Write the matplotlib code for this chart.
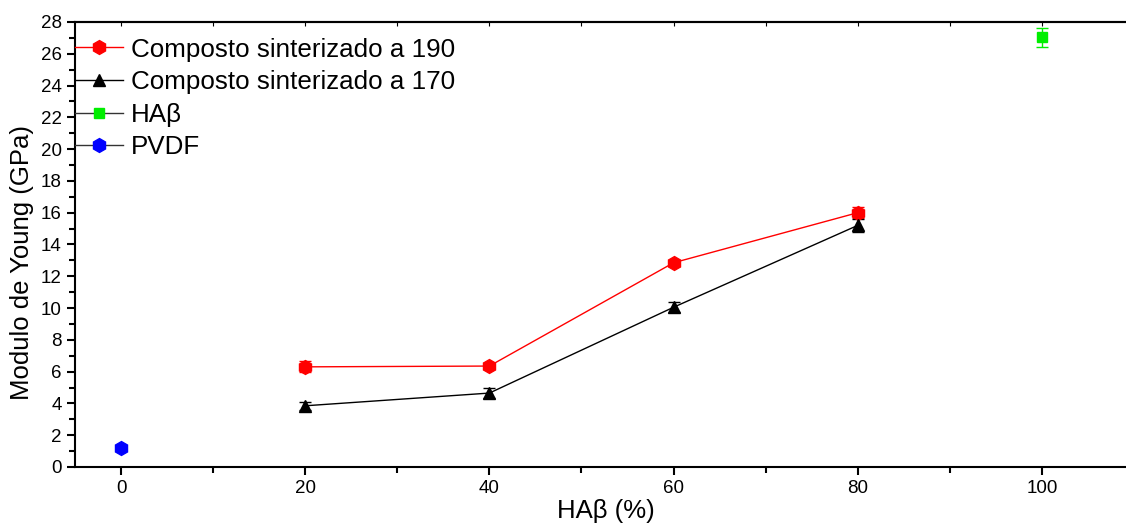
import numpy as np
import matplotlib.pyplot as plt
from matplotlib.lines import Line2D
from matplotlib.ticker import MultipleLocator

plt.rcParams['font.family'] = ['Liberation Sans', 'DejaVu Sans']

x_comp = [20, 40, 60, 80]
y_190 = [6.3, 6.35, 12.85, 16.0]
err_190 = [0.35, 0.2, 0.2, 0.35]
y_170 = [3.85, 4.65, 10.05, 15.2]
err_170 = [0.25, 0.3, 0.3, 0.4]
x_ha = [100]
y_ha = [27.05]
err_ha = [0.6]
x_pvdf = [0]
y_pvdf = [1.2]
err_pvdf = [0.1]

fig = plt.figure(figsize=(11.26, 5.27), dpi=100)
ax = fig.add_axes([0.0666, 0.1139, 0.9405, 0.8444])

ax.errorbar(x_comp, y_190, yerr=err_190, color='red', marker='h', ms=10,
            lw=1, capsize=4, elinewidth=1)
ax.errorbar(x_comp, y_170, yerr=err_170, color='black', marker='^', ms=9,
            lw=1, capsize=4, elinewidth=1)
ax.errorbar(x_ha, y_ha, yerr=err_ha, color='#00ee00', marker='s', ms=7,
            ls='none', capsize=4, elinewidth=1)
ax.errorbar(x_pvdf, y_pvdf, yerr=err_pvdf, color='blue', marker='h', ms=10,
            ls='none', capsize=4, elinewidth=1)

ax.set_xlim(-5, 110)
ax.set_ylim(0, 28)
ax.xaxis.set_major_locator(MultipleLocator(20))
ax.xaxis.set_minor_locator(MultipleLocator(10))
ax.yaxis.set_major_locator(MultipleLocator(2))
ax.yaxis.set_minor_locator(MultipleLocator(1))
ax.tick_params(axis='both', which='major', labelsize=13.5, length=6, width=1.5)
ax.tick_params(axis='both', which='minor', length=4, width=1.5)

# small inward ticks on the top spine
top = ax.secondary_xaxis('top')
top.xaxis.set_major_locator(MultipleLocator(10))
top.tick_params(direction='in', length=3, width=0.8, labeltop=False)
top.spines['top'].set_linewidth(1.5)

for s in ax.spines.values():
    s.set_linewidth(1.5)

ax.set_xlabel('HAβ (%)', fontsize=18.5)
ax.set_ylabel('Modulo de Young (GPa)', fontsize=18.5)
ax.xaxis.set_label_coords(0.501, -0.073)
ax.yaxis.set_label_coords(-0.039, 0.46)

handles = [
    Line2D([], [], color='red', marker='h', ms=10, lw=1),
    Line2D([], [], color='black', marker='^', ms=9, lw=1),
    Line2D([], [], color='#333333', marker='s', ms=7, mfc='#00ee00', mec='#00ee00', lw=1),
    Line2D([], [], color='#333333', marker='h', ms=10, mfc='blue', mec='blue', lw=1),
]
labels = ['Composto sinterizado a 190', 'Composto sinterizado a 170', 'HAβ', 'PVDF']
ax.legend(handles, labels, loc='upper left', bbox_to_anchor=(0.0, 0.965),
          frameon=False, fontsize=18.75, handlelength=1.85, handletextpad=0.3,
          labelspacing=0.33, borderaxespad=0, borderpad=0)

fig.savefig('out.png', dpi=100)
